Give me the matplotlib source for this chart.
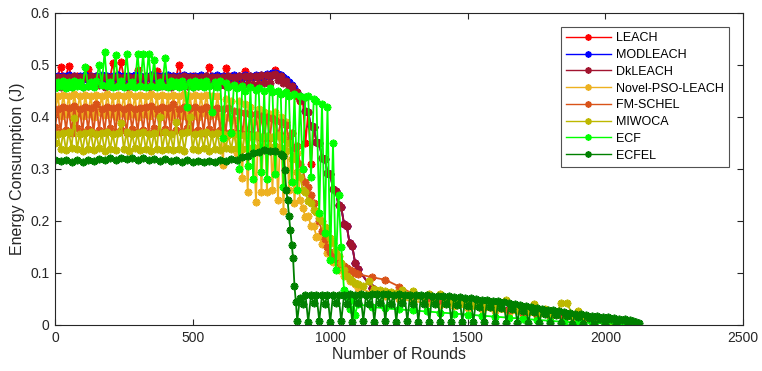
import matplotlib
matplotlib.use("Agg")
import matplotlib.pyplot as plt

# ---------------- data ----------------
rounds_a = list(range(0, 1100, 10)) + list(range(1100, 2101, 50))
rounds_b = list(range(0, 1100, 10)) + list(range(1100, 2101, 20))
rounds_ecfel = list(range(0, 821, 20)) + list(range(830, 881, 5)) + list(range(890, 2121, 10))

leach = [
    0.472, 0.478, 0.497, 0.476, 0.479, 0.498, 0.477, 0.476, 0.479, 0.477,
    0.476, 0.478, 0.493, 0.477, 0.476, 0.479, 0.477, 0.476, 0.478, 0.477,
    0.476, 0.503, 0.477, 0.478, 0.505, 0.476, 0.478, 0.477, 0.476, 0.479,
    0.49, 0.477, 0.476, 0.478, 0.477, 0.476, 0.479, 0.488, 0.477, 0.476,
    0.478, 0.477, 0.476, 0.479, 0.477, 0.50, 0.476, 0.478, 0.477, 0.476,
    0.479, 0.477, 0.476, 0.478, 0.477, 0.476, 0.497, 0.477, 0.476, 0.478,
    0.477, 0.476, 0.494, 0.477, 0.478, 0.476, 0.477, 0.478, 0.476, 0.488,
    0.477, 0.478, 0.477, 0.476, 0.478, 0.479, 0.477, 0.478, 0.479, 0.48,
    0.49, 0.48, 0.478, 0.474, 0.468, 0.462, 0.455, 0.447, 0.44, 0.43,
    0.436, 0.35, 0.41, 0.31, 0.38, 0.352, 0.35, 0.322, 0.32, 0.292,
    0.29, 0.262, 0.258, 0.23, 0.226, 0.195, 0.19, 0.158, 0.152, 0.12,
    0.108, 0.072, 0.062, 0.056, 0.052, 0.049, 0.046, 0.043, 0.04, 0.037,
    0.034, 0.031, 0.027, 0.023, 0.019, 0.015, 0.012, 0.009, 0.006, 0.003, 0.001]

modleach = [
    0.468, 0.478, 0.473, 0.479, 0.474, 0.48, 0.473, 0.478, 0.474, 0.479,
    0.473, 0.48, 0.474, 0.478, 0.473, 0.479, 0.475, 0.48, 0.474, 0.478,
    0.473, 0.479, 0.474, 0.48, 0.475, 0.478, 0.473, 0.479, 0.474, 0.48,
    0.474, 0.478, 0.473, 0.479, 0.475, 0.48, 0.474, 0.478, 0.473, 0.479,
    0.474, 0.48, 0.475, 0.478, 0.473, 0.479, 0.474, 0.48, 0.474, 0.478,
    0.473, 0.479, 0.475, 0.48, 0.474, 0.478, 0.473, 0.479, 0.474, 0.48,
    0.475, 0.478, 0.474, 0.479, 0.475, 0.48, 0.474, 0.479, 0.475, 0.48,
    0.475, 0.479, 0.476, 0.48, 0.476, 0.481, 0.477, 0.482, 0.478, 0.484,
    0.485, 0.483, 0.48, 0.477, 0.473, 0.468, 0.462, 0.455, 0.447, 0.44,
    0.436, 0.412, 0.41, 0.382, 0.38, 0.352, 0.35, 0.322, 0.32, 0.292,
    0.29, 0.262, 0.258, 0.23, 0.226, 0.195, 0.19, 0.158, 0.152, 0.12,
    0.108, 0.072, 0.062, 0.056, 0.052, 0.049, 0.046, 0.043, 0.04, 0.037,
    0.034, 0.031, 0.027, 0.023, 0.019, 0.015, 0.012, 0.009, 0.006, 0.003, 0.001]

dkleach = [
    0.462, 0.476, 0.458, 0.477, 0.46, 0.476, 0.457, 0.478, 0.461, 0.476,
    0.458, 0.477, 0.46, 0.478, 0.459, 0.476, 0.461, 0.477, 0.458, 0.476,
    0.46, 0.477, 0.459, 0.476, 0.461, 0.477, 0.458, 0.476, 0.46, 0.477,
    0.461, 0.476, 0.46, 0.477, 0.458, 0.478, 0.46, 0.476, 0.459, 0.477,
    0.46, 0.476, 0.458, 0.477, 0.461, 0.476, 0.459, 0.478, 0.46, 0.477,
    0.458, 0.476, 0.46, 0.477, 0.459, 0.478, 0.461, 0.476, 0.46, 0.477,
    0.461, 0.477, 0.46, 0.478, 0.462, 0.477, 0.461, 0.478, 0.462, 0.478,
    0.463, 0.479, 0.462, 0.479, 0.464, 0.48, 0.465, 0.481, 0.466, 0.481,
    0.482, 0.472, 0.478, 0.466, 0.47, 0.456, 0.46, 0.445, 0.448, 0.432,
    0.436, 0.412, 0.41, 0.382, 0.38, 0.352, 0.35, 0.322, 0.32, 0.292,
    0.29, 0.262, 0.258, 0.23, 0.226, 0.195, 0.19, 0.158, 0.152, 0.12,
    0.108, 0.072, 0.062, 0.056, 0.052, 0.049, 0.046, 0.043, 0.04, 0.037,
    0.034, 0.031, 0.027, 0.023, 0.019, 0.015, 0.012, 0.009, 0.006, 0.003, 0.001]

novel_pso = [
    0.41, 0.44, 0.402, 0.443, 0.405, 0.44, 0.40, 0.445, 0.408, 0.44,
    0.402, 0.442, 0.405, 0.44, 0.40, 0.443, 0.41, 0.44, 0.403, 0.445,
    0.405, 0.44, 0.40, 0.442, 0.408, 0.44, 0.402, 0.445, 0.405, 0.44,
    0.40, 0.443, 0.406, 0.44, 0.402, 0.445, 0.408, 0.44, 0.40, 0.442,
    0.405, 0.44, 0.40, 0.443, 0.407, 0.44, 0.402, 0.445, 0.40, 0.44,
    0.405, 0.442, 0.40, 0.44, 0.408, 0.443, 0.402, 0.44, 0.405, 0.44,
    0.40, 0.307, 0.435, 0.40, 0.43, 0.395, 0.33, 0.43, 0.283, 0.425,
    0.256, 0.42, 0.39, 0.237, 0.415, 0.256, 0.41, 0.256, 0.405, 0.26,
    0.41, 0.24, 0.40, 0.22, 0.39, 0.26, 0.37, 0.234, 0.33, 0.24,
    0.225, 0.208, 0.21, 0.19, 0.19, 0.17, 0.172, 0.155, 0.156, 0.138,
    0.14, 0.122, 0.122, 0.106, 0.107, 0.094, 0.095, 0.084, 0.085, 0.078,
    0.072, 0.062, 0.055, 0.05, 0.046, 0.042, 0.039, 0.036, 0.033, 0.03,
    0.027, 0.024, 0.021, 0.018, 0.015, 0.012, 0.009, 0.006, 0.004, 0.002, 0.001]

fm_schel = [
    0.38, 0.415, 0.372, 0.42, 0.375, 0.418, 0.37, 0.422, 0.378, 0.415,
    0.372, 0.42, 0.376, 0.418, 0.37, 0.425, 0.375, 0.415, 0.372, 0.42,
    0.378, 0.418, 0.372, 0.42, 0.375, 0.416, 0.37, 0.42, 0.376, 0.415,
    0.372, 0.418, 0.375, 0.42, 0.37, 0.422, 0.378, 0.415, 0.372, 0.42,
    0.376, 0.418, 0.37, 0.425, 0.375, 0.415, 0.372, 0.42, 0.378, 0.418,
    0.372, 0.42, 0.375, 0.416, 0.37, 0.42, 0.376, 0.415, 0.372, 0.418,
    0.375, 0.415, 0.37, 0.418, 0.372, 0.412, 0.37, 0.41, 0.368, 0.408,
    0.368, 0.405, 0.365, 0.405, 0.362, 0.402, 0.36, 0.40, 0.36, 0.398,
    0.395, 0.365, 0.39, 0.36, 0.385, 0.355, 0.37, 0.34, 0.345, 0.31,
    0.30, 0.275, 0.265, 0.25, 0.235, 0.22, 0.20, 0.18, 0.165, 0.15,
    0.14, 0.132, 0.127, 0.122, 0.117, 0.113, 0.11, 0.106, 0.103, 0.10,
    0.098, 0.092, 0.087, 0.074, 0.06, 0.052, 0.048, 0.044, 0.04, 0.036,
    0.032, 0.028, 0.024, 0.02, 0.017, 0.014, 0.011, 0.008, 0.005, 0.003, 0.001]

miwoca = [
    0.35, 0.368, 0.338, 0.37, 0.336, 0.372, 0.34, 0.398, 0.338, 0.368,
    0.335, 0.37, 0.338, 0.372, 0.336, 0.368, 0.34, 0.37, 0.335, 0.372,
    0.338, 0.368, 0.336, 0.37, 0.388, 0.338, 0.372, 0.335, 0.368, 0.34,
    0.37, 0.336, 0.372, 0.338, 0.368, 0.335, 0.37, 0.338, 0.40, 0.336,
    0.372, 0.338, 0.368, 0.336, 0.39, 0.338, 0.37, 0.335, 0.372, 0.40,
    0.338, 0.368, 0.336, 0.37, 0.34, 0.372, 0.335, 0.368, 0.338, 0.37,
    0.336, 0.368, 0.34, 0.365, 0.338, 0.368, 0.34, 0.365, 0.338, 0.366,
    0.34, 0.364, 0.342, 0.365, 0.34, 0.362, 0.342, 0.364, 0.343, 0.362,
    0.345, 0.365, 0.34, 0.36, 0.335, 0.35, 0.32, 0.325, 0.295, 0.285,
    0.26, 0.255, 0.238, 0.235, 0.222, 0.218, 0.205, 0.2, 0.188, 0.18,
    0.168, 0.157, 0.145, 0.132, 0.12, 0.105, 0.095, 0.088, 0.084, 0.08,
    0.078, 0.075, 0.085, 0.07, 0.068, 0.066, 0.064, 0.062, 0.067, 0.058,
    0.066, 0.055, 0.054, 0.06, 0.05, 0.06, 0.047, 0.045, 0.043, 0.042,
    0.04, 0.038, 0.036, 0.035, 0.034, 0.033, 0.032, 0.048, 0.03, 0.029,
    0.028, 0.027, 0.04, 0.025, 0.03, 0.023, 0.022, 0.042, 0.042, 0.02,
    0.026, 0.017, 0.015, 0.013, 0.011, 0.009, 0.007, 0.005, 0.004, 0.002,
    0.001]

ecf = [
    0.455, 0.468, 0.46, 0.47, 0.456, 0.468, 0.458, 0.47, 0.46, 0.467,
    0.457, 0.497, 0.46, 0.468, 0.458, 0.47, 0.50, 0.462, 0.525, 0.46,
    0.468, 0.458, 0.52, 0.46, 0.47, 0.457, 0.522, 0.46, 0.468, 0.458,
    0.521, 0.46, 0.522, 0.458, 0.522, 0.46, 0.51, 0.458, 0.468, 0.46,
    0.513, 0.458, 0.47, 0.46, 0.467, 0.457, 0.47, 0.46, 0.42, 0.468,
    0.458, 0.47, 0.46, 0.468, 0.457, 0.47, 0.46, 0.41, 0.468, 0.458,
    0.47, 0.36, 0.465, 0.458, 0.37, 0.462, 0.455, 0.30, 0.46, 0.45,
    0.305, 0.458, 0.28, 0.452, 0.455, 0.295, 0.45, 0.28, 0.455, 0.448,
    0.29, 0.45, 0.445, 0.265, 0.448, 0.44, 0.275, 0.445, 0.26, 0.44,
    0.30, 0.438, 0.44, 0.285, 0.435, 0.43, 0.215, 0.425, 0.177, 0.42,
    0.125, 0.35, 0.105, 0.25, 0.15, 0.067, 0.055, 0.03, 0.05, 0.02,
    0.04, 0.035, 0.032, 0.03, 0.028, 0.026, 0.024, 0.022, 0.02, 0.018,
    0.016, 0.014, 0.012, 0.01, 0.008, 0.006, 0.005, 0.004, 0.003, 0.002, 0.001]

ecfel = [
    0.318, 0.315, 0.318, 0.314, 0.317, 0.313, 0.317, 0.315, 0.319, 0.317,
    0.321, 0.318, 0.322, 0.319, 0.322, 0.318, 0.321, 0.317, 0.32, 0.316,
    0.319, 0.315, 0.318, 0.314, 0.317, 0.313, 0.316, 0.313, 0.316, 0.313,
    0.317, 0.315, 0.32, 0.318, 0.324, 0.325, 0.33, 0.332, 0.336, 0.334,
    0.334, 0.328,
    0.325, 0.298, 0.26, 0.24, 0.21, 0.183, 0.154, 0.128, 0.075, 0.045, 0.008,
    0.052, 0.04, 0.058, 0.006, 0.057, 0.042, 0.058, 0.008, 0.057, 0.04,
    0.058, 0.006, 0.058, 0.043, 0.057, 0.007, 0.058, 0.04, 0.059, 0.006,
    0.058, 0.042, 0.059, 0.008, 0.058, 0.04, 0.06, 0.006, 0.059, 0.043,
    0.06, 0.007, 0.059, 0.04, 0.058, 0.006, 0.059, 0.042, 0.058, 0.007,
    0.058, 0.04, 0.057, 0.006, 0.058, 0.041, 0.057, 0.006, 0.056, 0.04,
    0.056, 0.005, 0.056, 0.04, 0.055, 0.006, 0.054, 0.038, 0.053, 0.005,
    0.052, 0.037, 0.052, 0.005, 0.05, 0.035, 0.049, 0.005, 0.048, 0.034,
    0.047, 0.004, 0.046, 0.032, 0.044, 0.004, 0.042, 0.03, 0.04, 0.004,
    0.038, 0.027, 0.036, 0.004, 0.034, 0.025, 0.032, 0.003, 0.031, 0.022,
    0.029, 0.003, 0.028, 0.02, 0.026, 0.003, 0.025, 0.018, 0.023, 0.002,
    0.022, 0.016, 0.021, 0.002, 0.019, 0.014, 0.018, 0.002, 0.017, 0.012,
    0.016, 0.002, 0.015, 0.011, 0.014, 0.001, 0.012, 0.009, 0.011, 0.001,
    0.009, 0.007, 0.006, 0.004]

series_names = ["LEACH", "MODLEACH", "DkLEACH", "Novel-PSO-LEACH",
                "FM-SCHEL", "MIWOCA", "ECF", "ECFEL"]
series_colors = ["#FF0000", "#0000FF", "#A2142F", "#EDB120",
                 "#D95319", "#BDB800", "#00FF00", "#008000"]
x_ticks = [0, 500, 1000, 1500, 2000, 2500]
y_ticks = [0, 0.1, 0.2, 0.3, 0.4, 0.5, 0.6]
y_tick_labels = ["0", "0.1", "0.2", "0.3", "0.4", "0.5", "0.6"]

# ---------------- plot ----------------
plt.rcParams['font.family'] = ['Liberation Sans', 'DejaVu Sans']

fig = plt.figure(figsize=(7.62, 3.71), dpi=100)
ax = fig.add_axes([0.0722, 0.124, 0.9030, 0.841])

all_x = [rounds_a, rounds_a, rounds_a, rounds_a, rounds_a, rounds_b, rounds_a, rounds_ecfel]
all_y = [leach, modleach, dkleach, novel_pso, fm_schel, miwoca, ecf, ecfel]

asterisk = (8, 2, 0)
for xs, ys, name, col in zip(all_x, all_y, series_names, series_colors):
    n = min(len(xs), len(ys))
    ax.plot(xs[:n], ys[:n], '-', color=col, marker=asterisk, markersize=5.5,
            markeredgewidth=1.3, linewidth=1.3, label=name)

ax.set_xlim(0, 2500)
ax.set_ylim(0, 0.6)
ax.set_xticks(x_ticks)
ax.set_yticks(y_ticks)
ax.set_yticklabels(y_tick_labels)
ax.tick_params(direction='in', top=True, right=True, length=4, width=0.8,
               labelsize=10, colors='#262626', pad=4)
for sp in ax.spines.values():
    sp.set_color('#262626')
    sp.set_linewidth(0.8)

ax.set_xlabel("Number of Rounds", fontsize=11.5, color='#262626', labelpad=2)
ax.set_ylabel("Energy Consumption (J)", fontsize=11.5, color='#262626', labelpad=4)

leg = ax.legend(loc='upper right', fontsize=9, handlelength=3.6, labelspacing=0.38,
                borderaxespad=1.15, frameon=True, fancybox=False, borderpad=0.4,
                handletextpad=0.4)
leg.get_frame().set_edgecolor('#262626')
leg.get_frame().set_linewidth(0.8)
for h in leg.get_lines():
    h.set_linewidth(1.0)
    h.set_markersize(4.5)

fig.savefig("out.png", dpi=100)
